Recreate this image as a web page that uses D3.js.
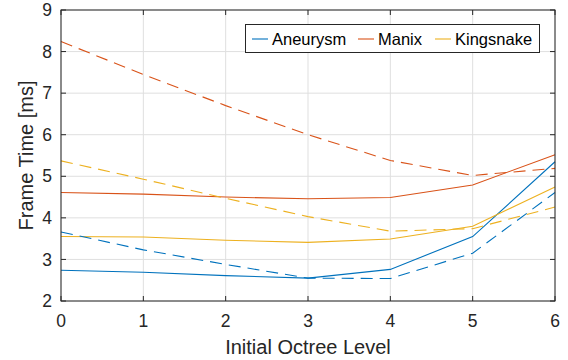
<!DOCTYPE html>
<html>
<head>
<meta charset="utf-8">
<script src="https://cdn.jsdelivr.net/npm/d3@7"></script>
<style>
  body { margin: 0; background: #fff; }
  svg { display: block; font-family: "Liberation Sans", Arial, sans-serif; }
</style>
</head>
<body>
<div id="chart"></div>
<script>
var levels = [0, 1, 2, 3, 4, 5, 6]
var names = ["Aneurysm", "Manix", "Kingsnake"]
var colors = ["#0072BD", "#D95319", "#EDB120"]

// solid lines
var aneurysm = [2.74, 2.69, 2.61, 2.55, 2.76, 3.55, 5.35]
var manix = [4.61, 4.57, 4.50, 4.46, 4.49, 4.79, 5.52]
var kingsnake = [3.55, 3.54, 3.46, 3.41, 3.49, 3.80, 4.74]
// dashed lines
var aneurysmDash = [3.66, 3.23, 2.88, 2.55, 2.54, 3.15, 4.61]
var manixDash = [8.24, 7.45, 6.70, 6.00, 5.38, 5.02, 5.19]
var kingsnakeDash = [5.37, 4.93, 4.47, 4.03, 3.68, 3.74, 4.26]

var yTicks = [2, 3, 4, 5, 6, 7, 8, 9]

var width = 568, height = 360
var margin = {top: 10, right: 13, bottom: 59, left: 61}

var svg = d3.select("#chart").append("svg")
	.attr("width", width)
	.attr("height", height)

var x = d3.scaleLinear()
	.domain([0, 6])
	.range([margin.left, width - margin.right])

var y = d3.scaleLinear()
	.domain([2, 9])
	.range([height - margin.bottom, margin.top])

var axisColor = "#262626"

// grid
var grid = svg.append("g")
grid.selectAll(".gx").data(levels).join("line")
	.attr("x1", d => x(d)).attr("x2", d => x(d))
	.attr("y1", y(2)).attr("y2", y(9))
	.attr("stroke", "#dfdfdf").attr("stroke-width", 1)
grid.selectAll(".gy").data(yTicks).join("line")
	.attr("y1", d => y(d)).attr("y2", d => y(d))
	.attr("x1", x(0)).attr("x2", x(6))
	.attr("stroke", "#dfdfdf").attr("stroke-width", 1)

var series = [
	{name: "Aneurysm", values: aneurysm, color: colors[0], dash: null},
	{name: "Manix", values: manix, color: colors[1], dash: null},
	{name: "Kingsnake", values: kingsnake, color: colors[2], dash: null},
	{name: "Aneurysm", values: aneurysmDash, color: colors[0], dash: "12,7"},
	{name: "Manix", values: manixDash, color: colors[1], dash: "12,7"},
	{name: "Kingsnake", values: kingsnakeDash, color: colors[2], dash: "12,7"}
]

var line = d3.line()
	.x((d, i) => x(levels[i]))
	.y(d => y(d))

svg.append("g").selectAll("path").data(series).join("path")
	.attr("fill", "none")
	.attr("stroke", d => d.color)
	.attr("stroke-width", 1.1)
	.attr("stroke-dasharray", d => d.dash)
	.attr("d", d => line(d.values))

// axes box
var box = svg.append("g")
box.append("rect")
	.attr("x", x(0)).attr("y", y(9))
	.attr("width", x(6) - x(0)).attr("height", y(2) - y(9))
	.attr("fill", "none").attr("stroke", axisColor).attr("stroke-width", 1)

var tickLen = 5
box.selectAll(".tb").data(levels).join("line")
	.attr("x1", d => x(d)).attr("x2", d => x(d))
	.attr("y1", y(2)).attr("y2", y(2) - tickLen)
	.attr("stroke", axisColor)
box.selectAll(".tt").data(levels).join("line")
	.attr("x1", d => x(d)).attr("x2", d => x(d))
	.attr("y1", y(9)).attr("y2", y(9) + tickLen)
	.attr("stroke", axisColor)
box.selectAll(".tl").data(yTicks).join("line")
	.attr("y1", d => y(d)).attr("y2", d => y(d))
	.attr("x1", x(0)).attr("x2", x(0) + tickLen)
	.attr("stroke", axisColor)
box.selectAll(".tr").data(yTicks).join("line")
	.attr("y1", d => y(d)).attr("y2", d => y(d))
	.attr("x1", x(6)).attr("x2", x(6) - tickLen)
	.attr("stroke", axisColor)

// tick labels
svg.append("g").selectAll("text").data(levels).join("text")
	.attr("x", d => x(d))
	.attr("y", y(2) + 26)
	.attr("text-anchor", "middle")
	.attr("font-size", 17.5)
	.attr("fill", axisColor)
	.text(d => d)

svg.append("g").selectAll("text").data(yTicks).join("text")
	.attr("x", x(0) - 9)
	.attr("y", d => y(d))
	.attr("dy", "0.35em")
	.attr("text-anchor", "end")
	.attr("font-size", 17.5)
	.attr("fill", axisColor)
	.text(d => d)

// axis titles
svg.append("text")
	.attr("x", (x(0) + x(6)) / 2)
	.attr("y", 354)
	.attr("text-anchor", "middle")
	.attr("font-size", 20)
	.attr("fill", axisColor)
	.text("Initial Octree Level")

svg.append("text")
	.attr("transform", `translate(33,${(y(2) + y(9)) / 2}) rotate(-90)`)
	.attr("text-anchor", "middle")
	.attr("font-size", 20)
	.attr("fill", axisColor)
	.text("Frame Time [ms]")

// legend
var legend = svg.append("g")
legend.append("rect")
	.attr("x", 245.5).attr("y", 24.5)
	.attr("width", 294).attr("height", 28)
	.attr("fill", "#fff").attr("stroke", axisColor).attr("stroke-width", 1)

var legendX = [252, 358, 435]
names.forEach((n, i) => {
	legend.append("line")
		.attr("x1", legendX[i]).attr("x2", legendX[i] + 16)
		.attr("y1", 39).attr("y2", 39)
		.attr("stroke", colors[i]).attr("stroke-width", 1.1)
	legend.append("text")
		.attr("x", legendX[i] + 20)
		.attr("y", 39)
		.attr("dy", "0.35em")
		.attr("font-size", 16.5)
		.attr("fill", "#000")
		.text(n)
})
</script>
</body>
</html>
